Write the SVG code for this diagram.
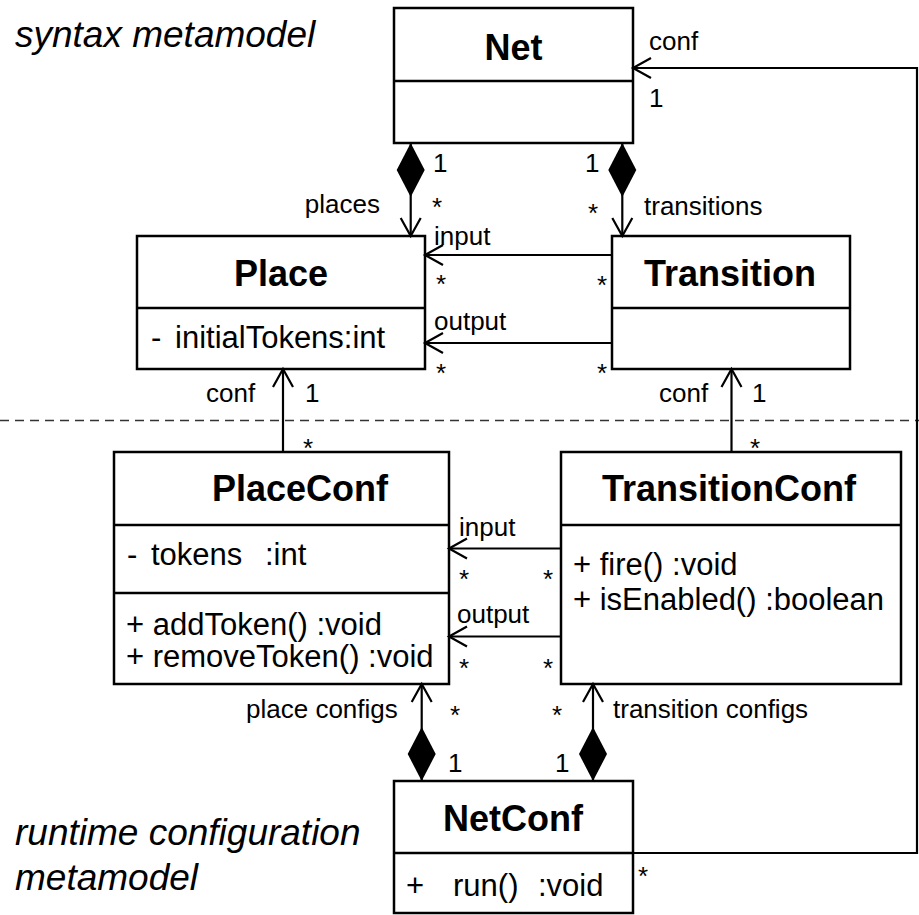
<svg xmlns="http://www.w3.org/2000/svg" width="919" height="915" viewBox="0 0 919 915">
  <style>
    .box { fill: #fff; stroke: #000; stroke-width: 2.5; }
    .div { stroke: #000; stroke-width: 2.5; }
    .title { font-family: "Liberation Sans", Arial, sans-serif; font-weight: bold; font-size: 36px; text-anchor: middle; }
    .mem { font-family: "Liberation Sans", Arial, sans-serif; font-size: 31px; }
    .lbl { font-family: "Liberation Sans", Arial, sans-serif; font-size: 26px; }
    .star { font-family: "Liberation Sans", Arial, sans-serif; font-size: 26px; text-anchor: middle; }
    .note { font-family: "Liberation Sans", Arial, sans-serif; font-style: italic; font-size: 37px; }
    .edge { fill: none; stroke: #000; stroke-width: 2.2; }
    .nav { marker-end: url(#open); }
    .comp { marker-start: url(#diamond); }
  </style>
  <defs>
    <marker id="open" markerUnits="userSpaceOnUse" markerWidth="24" markerHeight="26" viewBox="-20 -12 24 24" refX="0" refY="0" orient="auto">
      <path d="M -18 -10 L 0 0 L -18 10" fill="none" stroke="#000" stroke-width="2.2"/>
    </marker>
    <marker id="diamond" markerUnits="userSpaceOnUse" markerWidth="58" markerHeight="32" viewBox="-2 -16 58 32" refX="0" refY="0" orient="auto">
      <path d="M 0 0 L 27 -14 L 54 0 L 27 14 Z" fill="#000"/>
    </marker>
  </defs>

  <!-- package captions -->
  <text class="note" x="15" y="47">syntax metamodel</text>
  <text class="note" x="15" y="845">runtime configuration</text>
  <text class="note" x="15" y="890">metamodel</text>

  <!-- boundary between the two metamodels -->
  <line x1="0" y1="420.5" x2="919" y2="420.5" stroke="#333" stroke-width="1.6" stroke-dasharray="9 6"/>

  <!-- classes -->
  <g id="net">
    <rect class="box" x="394" y="8" width="239" height="135"/>
    <line class="div" x1="394" y1="81" x2="633" y2="81"/>
    <text class="title" x="513.5" y="60">Net</text>
  </g>

  <g id="place">
    <rect class="box" x="137" y="236" width="288" height="133"/>
    <line class="div" x1="137" y1="308" x2="425" y2="308"/>
    <text class="title" x="281" y="286">Place</text>
    <text class="mem" x="151" y="348">-</text>
    <text class="mem" x="175" y="348">initialTokens:int</text>
  </g>

  <g id="transition">
    <rect class="box" x="612" y="236" width="238" height="133"/>
    <line class="div" x1="612" y1="308" x2="850" y2="308"/>
    <text class="title" x="730" y="286">Transition</text>
  </g>

  <g id="placeconf">
    <rect class="box" x="114" y="452" width="335" height="232"/>
    <line class="div" x1="114" y1="525" x2="449" y2="525"/>
    <line class="div" x1="114" y1="593" x2="449" y2="593"/>
    <text class="title" x="300" y="501">PlaceConf</text>
    <text class="mem" x="127" y="565">-</text>
    <text class="mem" x="151" y="565">tokens</text>
    <text class="mem" x="265" y="565">:int</text>
    <text class="mem" x="126" y="635">+ addToken() :void</text>
    <text class="mem" x="126" y="667">+ removeToken() :void</text>
  </g>

  <g id="transitionconf">
    <rect class="box" x="561" y="452" width="340" height="232"/>
    <line class="div" x1="561" y1="525" x2="901" y2="525"/>
    <text class="title" x="729" y="501">TransitionConf</text>
    <text class="mem" x="573" y="575">+ fire() :void</text>
    <text class="mem" x="573" y="610">+ isEnabled() :boolean</text>
  </g>

  <g id="netconf">
    <rect class="box" x="394" y="781" width="239" height="132"/>
    <line class="div" x1="394" y1="853" x2="633" y2="853"/>
    <text class="title" x="513" y="831">NetConf</text>
    <text class="mem" x="406" y="896">+</text>
    <text class="mem" x="453" y="896">run()</text>
    <text class="mem" x="538" y="896">:void</text>
  </g>

  <!-- associations -->
  <g id="connectors">
    <!-- Net compositions -->
    <path class="edge comp nav" d="M 410.7 143 L 410.7 236"/>
    <path class="edge comp nav" d="M 622.3 143 L 622.3 236"/>
    <!-- Transition to Place -->
    <path class="edge nav" d="M 612 255 L 425 255"/>
    <path class="edge nav" d="M 612 343 L 425 343"/>
    <!-- conf links -->
    <path class="edge nav" d="M 283 452 L 283 369"/>
    <path class="edge nav" d="M 731.5 452 L 731.5 369"/>
    <!-- TransitionConf to PlaceConf -->
    <path class="edge nav" d="M 561 548.5 L 449 548.5"/>
    <path class="edge nav" d="M 561 636.5 L 449 636.5"/>
    <!-- NetConf compositions -->
    <path class="edge comp nav" d="M 421.7 781 L 421.7 684"/>
    <path class="edge comp nav" d="M 593 781 L 593 684"/>
    <!-- NetConf to Net -->
    <path class="edge nav" d="M 633 853 L 917 853 L 917 68 L 633 68"/>

    <!-- role names -->
    <text class="lbl" x="380" y="213" text-anchor="end">places</text>
    <text class="lbl" x="644" y="215">transitions</text>
    <text class="lbl" x="434" y="245">input</text>
    <text class="lbl" x="434" y="330">output</text>
    <text class="lbl" x="206" y="402">conf</text>
    <text class="lbl" x="659" y="402">conf</text>
    <text class="lbl" x="459" y="536">input</text>
    <text class="lbl" x="457" y="623">output</text>
    <text class="lbl" x="246" y="718">place configs</text>
    <text class="lbl" x="613" y="718">transition configs</text>
    <text class="lbl" x="649" y="50">conf</text>

    <!-- multiplicities -->
    <text class="lbl" x="433" y="172">1</text>
    <text class="lbl" x="585" y="172">1</text>
    <text class="lbl" x="649" y="107">1</text>
    <text class="lbl" x="305" y="402">1</text>
    <text class="lbl" x="752" y="402">1</text>
    <text class="lbl" x="448" y="772">1</text>
    <text class="lbl" x="555" y="772">1</text>

    <text class="star" x="437" y="216">*</text>
    <text class="star" x="593" y="222">*</text>
    <text class="star" x="441" y="293">*</text>
    <text class="star" x="602" y="294">*</text>
    <text class="star" x="441" y="382">*</text>
    <text class="star" x="602" y="382">*</text>
    <text class="star" x="308" y="457">*</text>
    <text class="star" x="755" y="457">*</text>
    <text class="star" x="464" y="588">*</text>
    <text class="star" x="548" y="588">*</text>
    <text class="star" x="464" y="677">*</text>
    <text class="star" x="548" y="677">*</text>
    <text class="star" x="455" y="724">*</text>
    <text class="star" x="557" y="724">*</text>
    <text class="star" x="643" y="885">*</text>
  </g>
</svg>
